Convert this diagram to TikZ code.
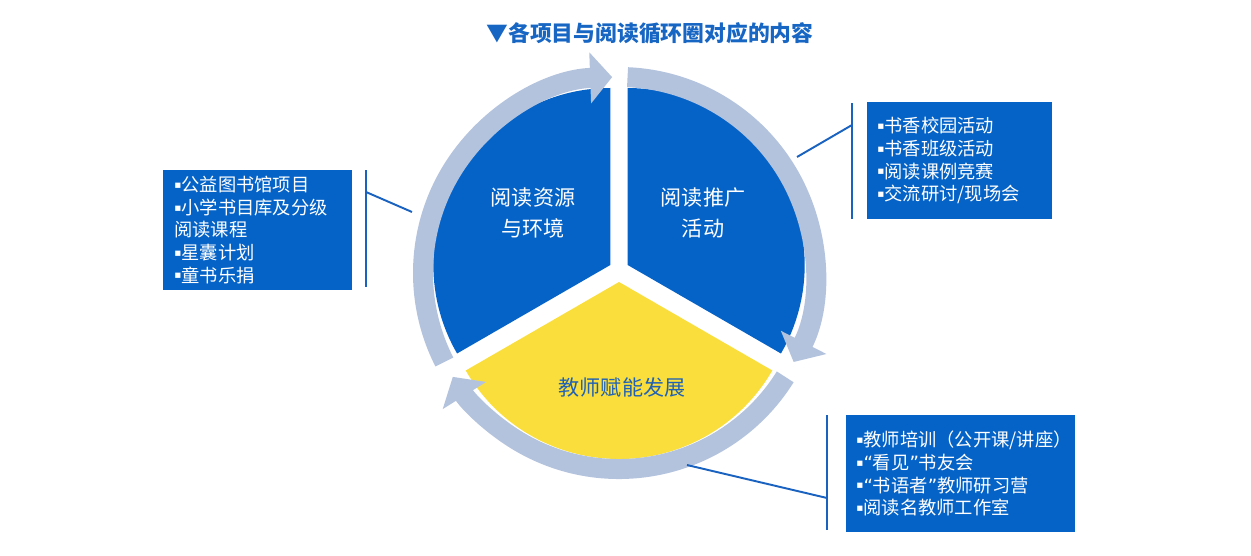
\documentclass[tikz,border=0pt]{standalone}
\usepackage{fontspec}
\setmainfont{Noto Sans CJK SC}
\newfontfamily\symf{DejaVu Sans}
\usetikzlibrary{arrows.meta, calc}
\definecolor{loopBlue}{HTML}{0563C8}
\definecolor{loopYellow}{HTML}{F9DE3C}
\definecolor{ringGrey}{HTML}{B3C3DD}
\definecolor{titleBlue}{HTML}{1766C4}
\definecolor{lineBlue}{HTML}{1A62C0}
\definecolor{labelBlue}{HTML}{2162B4}
\newcommand\bul{\raisebox{0.18em}{\symf\fontsize{6pt}{6pt}\selectfont ▪}}
\newcommand\oq{{\symf “}}
\newcommand\cq{{\symf ”}}

\begin{document}
\begin{tikzpicture}[x=0.02cm, y=0.02cm,
    ring/.style={line width=0.4cm, color=ringGrey, -{Triangle[length=0.44cm, width=1cm]}},
    link/.style={line width=1.1pt, color=lineBlue},
    listbox/.style={fill=loopBlue, text=white, align=left, anchor=north west,
      minimum height=2.34cm, inner xsep=0.2cm, font=\fontsize{10.4pt}{12.9pt}\selectfont},
    sector/.style={text=white, align=center, font=\fontsize{12pt}{18pt}\selectfont}]
  \useasboundingbox (0,0) rectangle (1251,555);
  \coordinate (c) at (619,285);
  \coordinate (r) at (619,282);

  \fill[loopBlue] ($(c)+(150:10)$) -- ++(90:177)
    arc[start angle=90, end angle=210, radius=177] -- cycle;
  \fill[loopBlue] ($(c)+(30:10)$) -- ++(-30:177)
    arc[start angle=-30, end angle=90, radius=177] -- cycle;
  \fill[loopYellow] ($(c)+(270:12)$) -- ++(210:177)
    arc[start angle=210, end angle=330, radius=177] -- cycle;

  \draw[ring] ($(r)+(207:196)$) arc[start angle=207, end angle=92, radius=196];
  \draw[ring] ($(r)+(87.5:196)$) arc[start angle=87.5, end angle=-27, radius=196];
  \draw[ring] ($(r)+(-32:196)$) arc[start angle=-32, end angle=-148, radius=196];

  \node[font=\fontsize{12.4pt}{15pt}\selectfont\bfseries, text=titleBlue] (title)
    at (650,522) {▼各项目与阅读循环圈对应的内容};
  \node[sector] (resLabel) at (533,342) {阅读资源\\与环境};
  \node[sector] (promLabel) at (703,342) {阅读推广\\活动};
  \node[sector, text=labelBlue] (teachLabel) at (622,168) {教师赋能发展};

  \node[listbox, text width=3.34cm, inner xsep=0.22cm] (resBox) at (163,385)
    {\bul 公益图书馆项目\\\bul 小学书目库及分级\\阅读课程\\\bul 星囊计划\\\bul 童书乐捐};
  \node[listbox, text width=3.3cm] (promBox) at (867,453)
    {\bul 书香校园活动\\\bul 书香班级活动\\\bul 阅读课例竞赛\\\bul 交流研讨/现场会};
  \node[listbox, text width=4.18cm] (teachBox) at (846,140)
    {\bul 教师培训（公开课/讲座）\\\bul \oq 看见\cq 书友会\\\bul \oq 书语者\cq 教师研习营\\\bul 阅读名教师工作室};

  \draw[link] (366,268) -- (366,385);
  \draw[link] (852,336) -- (852,452);
  \draw[link] (827,25) -- (827,140);
  \coordinate (resJoin) at (366,363);
  \coordinate (resRing) at (412,343);
  \coordinate (promJoin) at (852,430);
  \coordinate (promRing) at (797,398);
  \coordinate (teachJoin) at (827,57);
  \coordinate (teachRing) at (687,90);
  \draw[link] (resJoin) -- (resRing);
  \draw[link] (promJoin) -- (promRing);
  \draw[link] (teachJoin) -- (teachRing);
\end{tikzpicture}
\end{document}
